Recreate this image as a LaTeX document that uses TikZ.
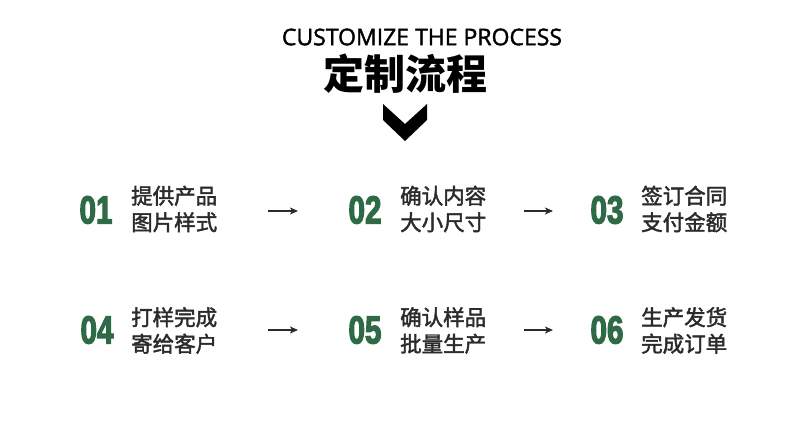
\documentclass[tikz,border=0pt]{standalone}
\usepackage{fontspec}
\usetikzlibrary{arrows.meta}
\setmainfont{Liberation Sans}
\newfontfamily\cjk{Noto Sans CJK SC}
\newfontfamily\cjkt{Noto Sans CJK SC}[FakeBold=2]
\newfontfamily\ttl{Open Sans}[FakeBold=1.6]
\newfontfamily\num{Liberation Sans}[UprightFont=*-Bold, FakeBold=3.5]
\definecolor{grn}{HTML}{2E6A46}
\definecolor{txt}{HTML}{2B2B2B}
\tikzset{
  numtext/.style={inner sep=0pt, text=grn, font=\num\fontsize{39}{39}\selectfont},
  steptext/.style={inner sep=0pt, anchor=west, align=left, text=txt,
    font=\cjkt\fontsize{21.5}{26.5}\selectfont},
  flowarrow/.style={draw=txt, line width=1.3pt, -{Stealth[length=8pt,width=7pt,inset=2pt]}}
}
\newcommand{\cnum}[1]{\scalebox{0.76}[1]{#1}}
\begin{document}
\begin{tikzpicture}[x=1pt,y=-1pt]
\useasboundingbox[fill=white] (0,0) rectangle (790,438);
\node[inner sep=0pt, font=\ttl\fontsize{23}{23}\selectfont] (title) at (422,37) {CUSTOMIZE THE PROCESS};
\node[inner sep=0pt, font=\cjk\bfseries\fontsize{41}{41}\selectfont] (subtitle) at (405,74) {定制流程};
\fill[black] (383,104) -- (405,124) -- (427,104) -- (427,120) -- (405,141) -- (383,120) -- cycle;

% row 1
\node[numtext] (n1) at (96,210) {\cnum{01}};
\node[steptext] (t1) at (131,209) {提供产品\\图片样式};
\node[numtext] (n2) at (365,210) {\cnum{02}};
\node[steptext] (t2) at (400,209) {确认内容\\大小尺寸};
\node[numtext] (n3) at (607,210) {\cnum{03}};
\node[steptext] (t3) at (641,209) {签订合同\\支付金额};
% row 2
\node[numtext] (n4) at (97,330) {\cnum{04}};
\node[steptext] (t4) at (131,330.5) {打样完成\\寄给客户};
\node[numtext] (n5) at (365,330) {\cnum{05}};
\node[steptext] (t5) at (400,330.5) {确认样品\\批量生产};
\node[numtext] (n6) at (607,330) {\cnum{06}};
\node[steptext] (t6) at (641,330.5) {生产发货\\完成订单};

\coordinate (a1s) at (268,211); \coordinate (a1e) at (298,211);
\coordinate (a2s) at (524,211); \coordinate (a2e) at (553,211);
\coordinate (a3s) at (268,330); \coordinate (a3e) at (298,330);
\coordinate (a4s) at (524,330); \coordinate (a4e) at (553,330);
\draw[flowarrow] (a1s) -- (a1e);
\draw[flowarrow] (a2s) -- (a2e);
\draw[flowarrow] (a3s) -- (a3e);
\draw[flowarrow] (a4s) -- (a4e);
\end{tikzpicture}
\end{document}
